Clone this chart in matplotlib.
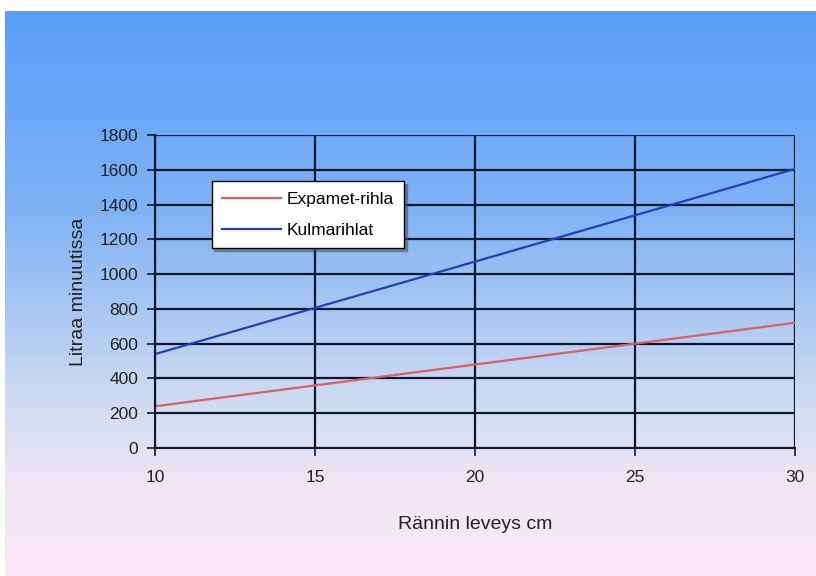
import matplotlib.pyplot as plt
import matplotlib.colors as mcolors
import numpy as np

plt.rcParams['font.family'] = ['Liberation Sans', 'DejaVu Sans']

# data
leveys = [10, 15, 20, 25, 30]
expamet = [240, 360, 480, 600, 720]
kulma = [540, 806, 1072, 1338, 1605]
yticks = [0, 200, 400, 600, 800, 1000, 1200, 1400, 1600, 1800]
xticks = [10, 15, 20, 25, 30]

fig = plt.figure(figsize=(8.16, 5.76), dpi=100)
fig.patch.set_facecolor('white')

# gradient panel behind the chart
bg = fig.add_axes([5/816, 0, 1 - 5/816, (576 - 11)/576])
bg.set_axis_off()
cmap = mcolors.LinearSegmentedColormap.from_list(
    'bg', [(0.0, '#5a9ef9'), (0.35, '#7fb2f4'), (0.7, '#d2dcf1'), (0.85, '#f3e6f5'), (1.0, '#f9e8f6')])
grad = np.linspace(0, 1, 256).reshape(-1, 1)
bg.imshow(grad, aspect='auto', cmap=cmap, extent=[0, 1, 0, 1], origin='upper')

ax = fig.add_axes([155/816, 1 - 448/576, 640/816, 313/576])
ax.patch.set_alpha(0)
ax.plot(leveys, expamet, color='#d9606a', lw=1.6, label='Expamet-rihla')
ax.plot(leveys, kulma, color='#2440b8', lw=1.6, label='Kulmarihlat')

ax.set_xlim(10, 30)
ax.set_ylim(0, 1800)
ax.set_xticks(xticks)
ax.set_yticks(yticks)
ax.grid(True, color='#0c1830', lw=1.6)
ax.set_axisbelow(True)
for s in ['top', 'right']:
    ax.spines[s].set_visible(False)
for s in ['left', 'bottom']:
    ax.spines[s].set_color('#101830')
    ax.spines[s].set_linewidth(1.5)
ax.tick_params(direction='out', length=6, width=1.2, color='#101830', labelsize=12.5, labelcolor='#222222')
ax.tick_params(axis='x', pad=10)
ax.tick_params(axis='y', pad=6)
ax.set_xlabel('Rännin leveys cm', fontsize=14, color='#222222', labelpad=22)
ax.set_ylabel('Litraa minuutissa', fontsize=14, color='#222222', labelpad=9)

leg = ax.legend(loc='upper left', bbox_to_anchor=(0.075, 0.88), fontsize=12.5,
                fancybox=False, shadow=True, framealpha=1, edgecolor='black',
                handlelength=3.4, handletextpad=0.3, borderpad=0.6, labelspacing=0.9)
leg.get_frame().set_linewidth(1.0)

fig.savefig('out.png', dpi=100)
